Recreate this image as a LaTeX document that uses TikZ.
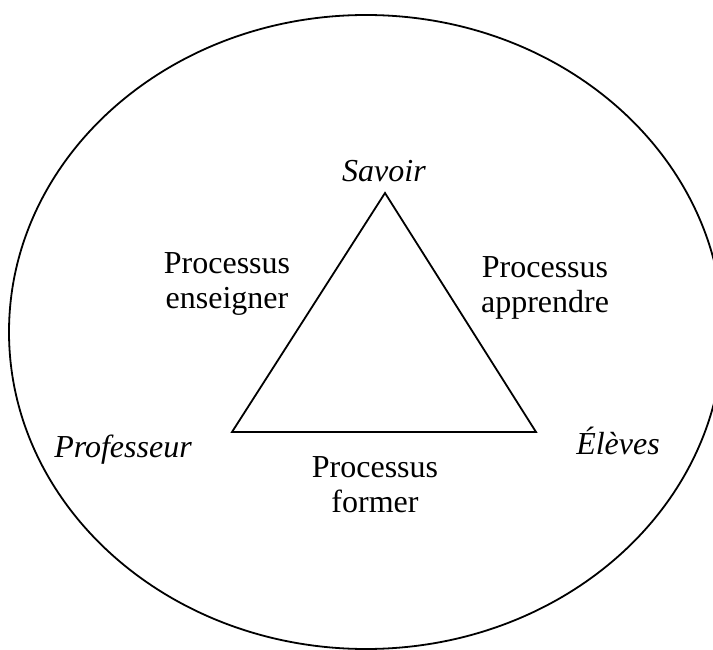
\documentclass[tikz,border=0pt]{standalone}
\usepackage{fontspec}
\setmainfont{Liberation Serif}
\usepackage{tikz}

\begin{document}
\begin{tikzpicture}[x=1pt,y=-1pt,line width=1.8pt,
    every node/.style={inner sep=0pt,font=\fontsize{32}{35}\selectfont},
    pole/.style={anchor=base,font=\fontsize{32}{35}\selectfont\itshape},
    proc/.style={anchor=north,align=center}]
    \useasboundingbox (0,0) rectangle (713,650);
    \draw (366,332) ellipse [x radius=357, y radius=317];

    \coordinate (S) at (385,193);
    \coordinate (P) at (232,432);
    \coordinate (E) at (536,432);
    \draw (S) -- (P) -- (E) -- cycle;

    \node[pole] (savoir) at (384,182) {Savoir};
    \node[pole] (prof)   at (123,457) {Professeur};
    \node[pole] (eleves) at (618,454) {Élèves};

    \node[proc] (ens) at (227,252) {Processus\\enseigner};
    \node[proc] (app) at (545,256) {Processus\\apprendre};
    \node[proc] (for) at (375,456) {Processus\\former};
\end{tikzpicture}
\end{document}
